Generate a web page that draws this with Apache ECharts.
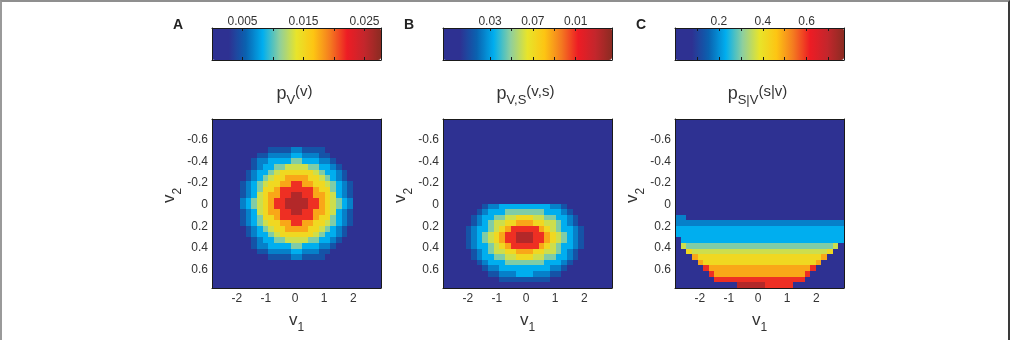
<!DOCTYPE html>
<html>
<head>
<meta charset="utf-8">
<script src="https://cdn.jsdelivr.net/npm/echarts@6/dist/echarts.min.js"></script>
<style>
  html, body { margin: 0; padding: 0; background: #fff; }
  #chart { position: absolute; left: 0; top: 0; width: 1013px; height: 340px; }
  #frame {
    position: absolute; left: 0; top: 0; width: 1006px; height: 338px;
    border-top: 2px solid #8f8f8f; border-left: 2px solid #9a9a9a; border-right: 2px solid #3a3a3a;
    pointer-events: none;
  }
</style>
</head>
<body>
<div id="chart"></div>
<div id="frame"></div>
<script>
// 30 x 30 bins, rows from top (v2 = -0.8) to bottom (v2 = 0.8), cols v1 from left to right
// each digit is a colour level, level -> position on the colour bar in levelFrac
const pV = [
  '000000000000000000000000000000',
  '000000000000000000000000000000',
  '000000000000000000000000000000',
  '000000000000000000000000000000',
  '000000000000000000000000000000',
  '000000000011112211110000000000',
  '000000001122223322211000000000',
  '000000012233334433322100000000',
  '000000012334455554433210000000',
  '000000123345666666543321000000',
  '000000123456677776654321000000',
  '000001234566778877665432100000',
  '000001234667888888766432100000',
  '000001235677889988776532100000',
  '000002345678899998876543200000',
  '000002345678899998876543200000',
  '000001235677889988776532100000',
  '000001234667888888766432100000',
  '000001234566778877665432100000',
  '000000123456677776654321000000',
  '000000123345666666543321000000',
  '000000012334455554433210000000',
  '000000012233334433322100000000',
  '000000001122223322211000000000',
  '000000000011112211110000000000',
  '000000000000000000000000000000',
  '000000000000000000000000000000',
  '000000000000000000000000000000',
  '000000000000000000000000000000',
  '000000000000000000000000000000'
];

const pVS = [
  '000000000000000000000000000000',
  '000000000000000000000000000000',
  '000000000000000000000000000000',
  '000000000000000000000000000000',
  '000000000000000000000000000000',
  '000000000000000000000000000000',
  '000000000000000000000000000000',
  '000000000000000000000000000000',
  '000000000000000000000000000000',
  '000000000000000000000000000000',
  '000000000000000000000000000000',
  '000000000000000000000000000000',
  '000000000000000000000000000000',
  '000000000000000000000000000000',
  '000000000000000000000000000000',
  '000000012233333333322100000000',
  '000000123334444444333210000000',
  '000001233445566655443321000000',
  '000001234556677766554321000000',
  '000012334567888887654332100000',
  '000012345678899988765432100000',
  '000012345678899988765432100000',
  '000012334567888887654332100000',
  '000001234556677766554321000000',
  '000001233445566655443321000000',
  '000000123334444444333210000000',
  '000000012233333333322100000000',
  '000000001122233322211000000000',
  '000000000011111111100000000000',
  '000000000000000000000000000000'
];

const pSV = [
  '000000000000000000000000000000',
  '000000000000000000000000000000',
  '000000000000000000000000000000',
  '000000000000000000000000000000',
  '000000000000000000000000000000',
  '000000000000000000000000000000',
  '000000000000000000000000000000',
  '000000000000000000000000000000',
  '000000000000000000000000000000',
  '000000000000000000000000000000',
  '000000000000000000000000000000',
  '000000000000000000000000000000',
  '000000000000000000000000000000',
  '000000000000000000000000000000',
  '000000000000000000000000000000',
  '000000000000000000000000000000',
  '000000000000000000000000000000',
  '220000000000000000000000000000',
  '222222222222222222222222222222',
  '333333333333333333333333333333',
  '333333333333333333333333333333',
  '033333333333333333333333333333',
  '054444444444444444444444444450',
  '006555555555555555555555555600',
  '000766666666666666666666667000',
  '000076666666666666666666670000',
  '000008777777777777777777800000',
  '000000877777777777777778000000',
  '000000088888888888888880000000',
  '000000000009999988888000000000'
];

const levelFrac = [0, 0.17, 0.24, 0.3, 0.39, 0.47, 0.54, 0.64, 0.78, 0.93];
const jetColors = ['#2e3192', '#2e3192', '#0a62b0', '#00aeef', '#8ecf9e', '#e8e42a',
                   '#fdc513', '#f47a20', '#ed1c24', '#c4262c', '#8b2b22'];

const xTicks = [-2, -1, 0, 1, 2];
const yTicks = [-0.6, -0.4, -0.2, 0, 0.2, 0.4, 0.6];

const cbTicksA = [0.005, 0.015, 0.025];
const cbLabelsA = ['0.005', '0.015', '0.025'];
const cbTicksB = [0.03, 0.07, 0.11];
const cbLabelsB = ['0.03', '0.07', '0.01'];
const cbTicksC = [0.2, 0.4, 0.6];
const cbLabelsC = ['0.2', '0.4', '0.6'];
const cbMinorA = [0.005, 0.01, 0.015, 0.02, 0.025];
const cbMinorB = [0.03, 0.05, 0.07, 0.09, 0.11];
const cbMinorC = [0.1, 0.2, 0.3, 0.4, 0.5, 0.6, 0.7];
const cbRange = [[0, 0.0277], [-0.014, 0.144], [0, 0.77]];

const letters = ['A', 'B', 'C'];
const titleSub = ['V', 'V,S', 'S|V'];
const titleArg = ['(v)', '(v,s)', '(s|v)'];

const FONT = '"Liberation Sans", Arial, Helvetica, sans-serif';
const TXT = '#333';
const N = 30;
const bins = Array.from({ length: N }, (_, i) => String(i));

const plotLeft = [212, 443, 675];
const plotW = 169;

const panels = [pV, pVS, pSV];
const cbTicks = [cbTicksA, cbTicksB, cbTicksC];
const cbLabels = [cbLabelsA, cbLabelsB, cbLabelsC];
const cbMinor = [cbMinorA, cbMinorB, cbMinorC];

function toCells(rows, lo, hi) {
  const out = [];
  rows.forEach((row, r) => {
    const s = row.padEnd(N, '0').slice(0, N);
    for (let c = 0; c < N; c++) {
      out.push([c, r, lo + levelFrac[+s[c]] * (hi - lo)]);
    }
  });
  return out;
}

// one rect per bin, snapped to whole pixels so neighbours meet without seams
function renderCell(params, api) {
  const p = api.coord([api.value(0), api.value(1)]);
  const s = api.size([1, 1]);
  const w = Math.abs(s[0]) / 2, h = Math.abs(s[1]) / 2;
  const x0 = Math.round(p[0] - w), x1 = Math.round(p[0] + w);
  const y0 = Math.round(p[1] - h), y1 = Math.round(p[1] + h);
  return {
    type: 'rect',
    shape: { x: x0, y: y0, width: x1 - x0, height: y1 - y0 },
    style: { fill: api.visual('color') }
  };
}

const frameLine = { show: true, onZero: false, lineStyle: { color: '#1a1a1a', width: 1 } };
const labelStyle = { fontSize: 12, color: TXT, fontFamily: FONT };

const nameRich = (padLeft) => ({
  v: { fontSize: 17, lineHeight: 17, color: TXT, fontFamily: FONT, padding: [0, 0, 0, padLeft] },
  s: { fontSize: 12, lineHeight: 12, color: TXT, fontFamily: FONT, padding: [16, 0, 0, 0] }
});

const option = {
  animation: false,
  backgroundColor: '#fff',
  title: [],
  grid: [],
  xAxis: [],
  yAxis: [],
  visualMap: [],
  series: []
};

for (let i = 0; i < 3; i++) {
  const L = plotLeft[i];
  const [lo, hi] = cbRange[i];
  const cx = L + plotW / 2;

  option.title.push({
    text: letters[i], left: L - 34, top: 18, textAlign: 'center', padding: 0,
    textStyle: { fontSize: 14, fontWeight: 'bold', color: '#222', fontFamily: FONT }
  });
  option.title.push({
    text: '{p|p}{s|' + titleSub[i] + '}{a|' + titleArg[i] + '}',
    left: cx - 2, top: 85, textAlign: 'center', padding: 0,
    textStyle: {
      fontWeight: 'normal',
      rich: {
        p: { fontSize: 18, lineHeight: 18, fontWeight: 'normal', color: TXT, fontFamily: FONT },
        s: { fontSize: 13, lineHeight: 13, fontWeight: 'normal', color: TXT, fontFamily: FONT, padding: [12, 0, 0, 0] },
        a: { fontSize: 15, lineHeight: 15, fontWeight: 'normal', color: TXT, fontFamily: FONT, padding: [0, 0, 5, 0] }
      }
    }
  });

  option.grid.push({ left: L, top: 119, width: plotW, height: 169 });
  option.grid.push({ left: L, top: 28, width: plotW, height: 32 });

  const tickFmt = (v) => {
    const k = cbTicks[i].findIndex(t => Math.abs(t - v) < 1e-9);
    return k < 0 ? '' : cbLabels[i][k];
  };

  option.xAxis.push(
    {
      gridIndex: 2 * i, type: 'category', data: bins, position: 'top', z: 10,
      axisLine: frameLine, axisTick: { show: false }, axisLabel: { show: false }, splitLine: { show: false }
    },
    {
      gridIndex: 2 * i, type: 'value', min: -2.85, max: 2.95, position: 'bottom', z: 10,
      axisLine: frameLine, axisTick: { show: false }, splitLine: { show: false },
      axisLabel: Object.assign({ customValues: xTicks, margin: 5 }, labelStyle),
      name: '{v|v}{s|1}', nameLocation: 'middle', nameGap: 16,
      nameTextStyle: { rich: nameRich(0) }
    },
    {
      gridIndex: 2 * i + 1, type: 'value', min: lo, max: hi, position: 'top', z: 10,
      axisLine: frameLine, splitLine: { show: false },
      axisTick: { inside: true, length: 3, customValues: cbMinor[i], lineStyle: { color: '#1a1a1a' } },
      axisLabel: Object.assign({ customValues: cbTicks[i], margin: 0, formatter: tickFmt }, labelStyle)
    },
    {
      gridIndex: 2 * i + 1, type: 'value', min: lo, max: hi, position: 'bottom', z: 10,
      axisLine: frameLine, splitLine: { show: false }, axisLabel: { show: false },
      axisTick: { inside: true, length: 3, customValues: cbMinor[i], lineStyle: { color: '#1a1a1a' } }
    }
  );

  option.yAxis.push(
    {
      gridIndex: 2 * i, type: 'category', data: bins, inverse: true, position: 'right', z: 10,
      axisLine: frameLine, axisTick: { show: false }, axisLabel: { show: false }, splitLine: { show: false }
    },
    {
      gridIndex: 2 * i, type: 'value', min: -0.79, max: 0.77, inverse: true, position: 'left', z: 10,
      axisLine: frameLine, axisTick: { show: false }, splitLine: { show: false },
      axisLabel: Object.assign({ customValues: yTicks, margin: 4 }, labelStyle),
      name: '{v|v}{s|2}', nameLocation: 'middle', nameGap: 23,
      nameTextStyle: { rich: nameRich(16) }
    },
    {
      gridIndex: 2 * i + 1, type: 'value', min: 0, max: 1, position: 'left', z: 10,
      axisLine: frameLine, axisTick: { show: false }, axisLabel: { show: false }, splitLine: { show: false }
    },
    {
      gridIndex: 2 * i + 1, type: 'value', min: 0, max: 1, position: 'right', z: 10,
      axisLine: frameLine, axisTick: { show: false }, axisLabel: { show: false }, splitLine: { show: false }
    }
  );

  option.visualMap.push({
    type: 'continuous', seriesIndex: i, dimension: 2, min: lo, max: hi,
    orient: 'horizontal', left: L, top: 28, itemWidth: 32, itemHeight: plotW,
    calculable: false, hoverLink: false, padding: 0,
    inRange: { color: jetColors }
  });

  option.series.push({
    type: 'custom', xAxisIndex: 4 * i, yAxisIndex: 4 * i,
    encode: { x: 0, y: 1 },
    data: toCells(panels[i], lo, hi),
    renderItem: renderCell,
    silent: true
  });
}

const chart = echarts.init(document.getElementById('chart'));
chart.setOption(option);
window.addEventListener('resize', () => chart.resize());
</script>
</body>
</html>
